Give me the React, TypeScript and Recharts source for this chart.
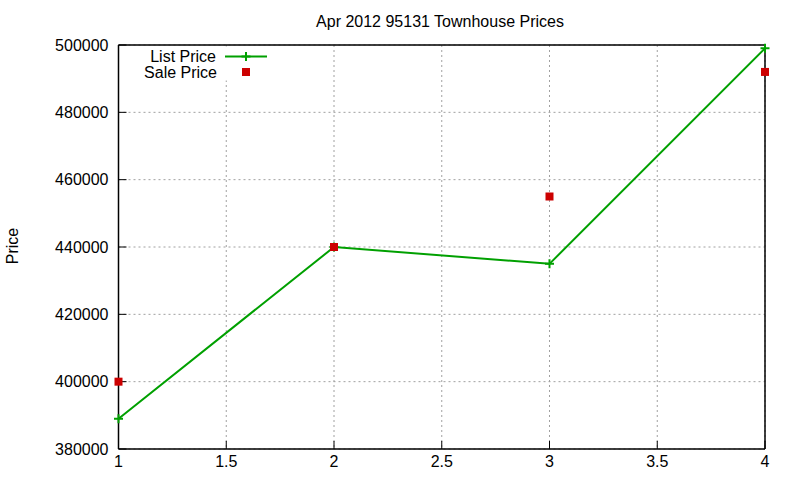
import React from 'react';
import { ComposedChart, Line, XAxis, YAxis, CartesianGrid } from 'recharts';

const xValues = [1, 2, 3, 4];
const listPrice = [389000, 440000, 435000, 499000];
const salePrice = [400000, 440000, 455000, 492000];
const xTicks = [1, 1.5, 2, 2.5, 3, 3.5, 4];
const yTicks = [380000, 400000, 420000, 440000, 460000, 480000, 500000];
const seriesNames = ['List Price', 'Sale Price'];

const data = xValues.map((x, i) => ({ x, list: listPrice[i], sale: salePrice[i] }));

const GREEN = '#00a000';
const RED = '#cc0000';
const FONT = '"Liberation Sans", Arial, sans-serif';

const PlusDot = (props: any) => {
  const { cx, cy, index } = props;
  if (cx == null || cy == null) return <g key={`p${index}`} />;
  return (
    <path
      key={`p${index}`}
      d={`M${cx - 4.5},${cy}H${cx + 4.5}M${cx},${cy - 4.5}V${cy + 4.5}`}
      stroke={GREEN}
      strokeWidth={2}
      fill="none"
    />
  );
};

const SquareDot = (props: any) => {
  const { cx, cy, index } = props;
  if (cx == null || cy == null) return <g key={`s${index}`} />;
  return <rect key={`s${index}`} x={cx - 4} y={cy - 4} width={8} height={8} fill={RED} />;
};

export default function App() {
  return (
    <div style={{ position: 'absolute', left: 0, top: 0, width: 800, height: 480, background: '#fff' }}>
      <div style={{ position: 'absolute', left: 0, top: 0 }}>
        <ComposedChart
          width={800}
          height={480}
          data={data}
          margin={{ top: 45, right: 35, bottom: 0, left: 0 }}
          style={{ fontFamily: FONT }}
        >
          <CartesianGrid
            xAxisId="b"
            yAxisId="l"
            stroke="#a0a0a0"
            strokeDasharray="2 3"
            strokeWidth={1}
            horizontalValues={yTicks}
            verticalValues={xTicks}
          />
          <XAxis
            xAxisId="b"
            dataKey="x"
            type="number"
            domain={[1, 4]}
            ticks={xTicks}
            axisLine={{ stroke: '#000', strokeWidth: 1.5 }}
            tickLine={{ stroke: '#000' }}
            tickSize={-8}
            tickMargin={15}
            height={31}
            tick={{ fill: '#000', fontSize: 16, fontFamily: FONT }}
          />
          <XAxis
            xAxisId="t"
            dataKey="x"
            type="number"
            orientation="top"
            mirror
            domain={[1, 4]}
            ticks={xTicks}
            tick={false}
            axisLine={{ stroke: '#000', strokeWidth: 1.5 }}
            tickLine={{ stroke: '#000' }}
            tickSize={8}
          />
          <YAxis
            yAxisId="l"
            type="number"
            domain={[380000, 500000]}
            ticks={yTicks}
            width={118.5}
            axisLine={{ stroke: '#000', strokeWidth: 1.5 }}
            tickLine={{ stroke: '#000' }}
            tickSize={-8}
            tickMargin={18}
            tick={{ fill: '#000', fontSize: 16, fontFamily: FONT }}
          />
          <YAxis
            yAxisId="r"
            type="number"
            orientation="right"
            mirror
            domain={[380000, 500000]}
            ticks={yTicks}
            tick={false}
            axisLine={{ stroke: '#000', strokeWidth: 1.5 }}
            tickLine={{ stroke: '#000' }}
            tickSize={8}
          />
          <Line
            xAxisId="b"
            yAxisId="l"
            dataKey="list"
            name={seriesNames[0]}
            stroke={GREEN}
            strokeWidth={2}
            dot={PlusDot}
            activeDot={false}
            isAnimationActive={false}
            type="linear"
          />
          <Line
            xAxisId="b"
            yAxisId="l"
            dataKey="sale"
            name={seriesNames[1]}
            stroke="none"
            dot={SquareDot}
            activeDot={false}
            isAnimationActive={false}
          />
        </ComposedChart>
      </div>
      <svg width={800} height={480} style={{ position: 'absolute', left: 0, top: 0, pointerEvents: 'none' }}>
        <text x={440} y={21} textAnchor="middle" dominantBaseline="central" fontSize={16} fontFamily={FONT} fill="#000">
          Apr 2012 95131 Townhouse Prices
        </text>
        <text
          x={12}
          y={246}
          textAnchor="middle"
          dominantBaseline="central"
          fontSize={16}
          fontFamily={FONT}
          fill="#000"
          transform="rotate(-90 12 246)"
        >
          Price
        </text>
        <rect x={140} y={46.5} width={135} height={34} fill="#fff" />
        <text x={216} y={56} textAnchor="end" dominantBaseline="central" fontSize={16} fontFamily={FONT} fill="#000">
          {seriesNames[0]}
        </text>
        <line x1={225} x2={267} y1={56.5} y2={56.5} stroke={GREEN} strokeWidth={2} />
        <path d="M241.5,56.5H250.5M246,52V61" stroke={GREEN} strokeWidth={2} />
        <text x={217} y={72} textAnchor="end" dominantBaseline="central" fontSize={16} fontFamily={FONT} fill="#000">
          {seriesNames[1]}
        </text>
        <rect x={242} y={68} width={8} height={8} fill={RED} />
      </svg>
    </div>
  );
}
